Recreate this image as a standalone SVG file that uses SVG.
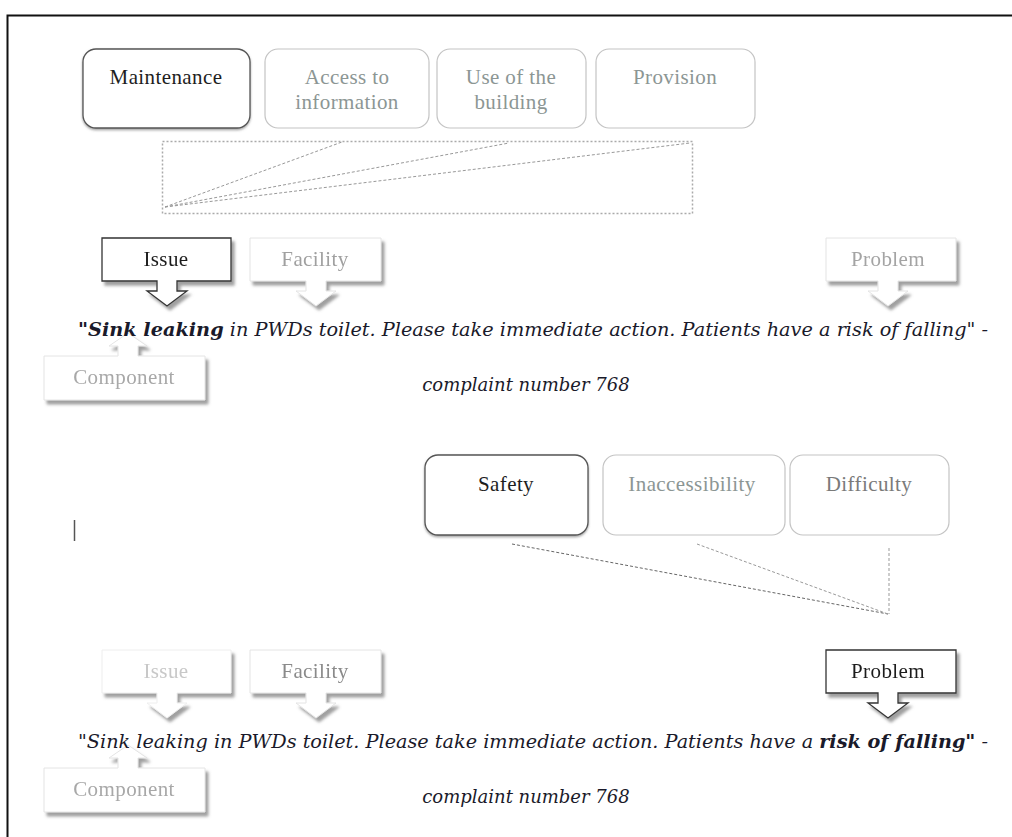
<svg xmlns="http://www.w3.org/2000/svg" width="1012" height="837" viewBox="0 0 1012 837">
<defs>
<filter id="sh" x="-10%" y="-10%" width="130%" height="140%">
<feDropShadow dx="3" dy="4" stdDeviation="1.5" flood-color="#777" flood-opacity="0.7"/>
</filter>
<filter id="sh2" x="-10%" y="-10%" width="130%" height="140%">
<feDropShadow dx="0" dy="1.5" stdDeviation="0.8" flood-color="#666" flood-opacity="0.6"/>
</filter>
</defs>
<style>
.bx{fill:#fff;rx:13px;ry:13px}
.dark{stroke:#555;stroke-width:1.3}
.light{stroke:#c4c4c4;stroke-width:1.2}
.t{font-family:'Liberation Serif','DejaVu Serif',serif;font-size:21px;letter-spacing:0.4px;text-anchor:middle}
.td{fill:#1e1e1e}
.tl{fill:#8c9694}
.tf{fill:#c8c8c8}
.co{fill:#fff}
.main{font-family:'DejaVu Serif',serif;font-size:18px;font-style:italic;fill:#1a1a2a}
.dash{fill:none;stroke:#999;stroke-width:1;stroke-dasharray:3 2}
</style>
<rect width="1012" height="837" fill="#fff"/>
<path d="M7.5,837 V15.5 H1012" fill="none" stroke="#111" stroke-width="2"/>
<line x1="74.5" y1="520" x2="74.5" y2="541" stroke="#555" stroke-width="1.5"/>

<g id="maintenance"><rect class="bx dark" x="83" y="49" width="167" height="79" filter="url(#sh2)"/><text class="t td" x="166" y="84">Maintenance</text></g>
<g id="access"><rect class="bx light" x="265" y="49" width="164" height="79"/><text class="t tl" x="347" y="84">Access to</text><text class="t tl" x="347" y="109">information</text></g>
<g id="use"><rect class="bx light" x="437" y="49" width="149" height="79"/><text class="t tl" x="511" y="84">Use of the</text><text class="t tl" x="511" y="109">building</text></g>
<g id="provision"><rect class="bx light" x="596" y="49" width="159" height="79"/><text class="t tl" x="675" y="84">Provision</text></g>

<g id="connectors1">
<rect x="162.5" y="141.5" width="530" height="72" fill="none" stroke="#aaa" stroke-width="1.5" stroke-dasharray="2 2"/>
<line class="dash" x1="165" y1="207" x2="342" y2="142"/>
<line class="dash" x1="165" y1="207" x2="509" y2="143"/>
<line class="dash" x1="165" y1="207" x2="690" y2="143"/>
</g>

<g id="issue1" filter="url(#sh)"><path class="co" d="M102,238 H231 V281 H177 V291 H187 L167,306 L147,291 H157 V281 H102 Z" stroke="#333" stroke-width="1.3"/><text class="t td" x="166" y="266">Issue</text></g>
<g id="facility1" filter="url(#sh)"><path class="co" d="M250,238 H381 V281 H326 V291 H336 L316,306 L296,291 H306 V281 H250 Z" stroke="#e4e4e4" stroke-width="1"/><text class="t" x="315" y="266" fill="#a0a0a0">Facility</text></g>
<g id="problem1" filter="url(#sh)"><path class="co" d="M826,238 H956 V281 H898 V291 H908 L888,306 L868,291 H878 V281 H826 Z" stroke="#e4e4e4" stroke-width="1"/><text class="t" x="888" y="266" fill="#a4a4a4">Problem</text></g>
<g id="component1" filter="url(#sh)"><path class="co" d="M44,356 H118 V346 H109 L128,333 L147,346 H138 V356 H205 V400 H44 Z" stroke="#e4e4e4" stroke-width="1"/><text class="t" x="124" y="384" fill="#a8a8a8">Component</text></g>

<text class="main" x="78" y="336" textLength="910" lengthAdjust="spacingAndGlyphs"><tspan font-weight="bold">"Sink leaking</tspan> in PWDs toilet. Please take immediate action. Patients have a risk of falling" -</text>
<text class="main" x="526" y="391" text-anchor="middle">complaint number 768</text>

<g id="safety"><rect class="bx dark" x="425" y="455" width="163" height="80" filter="url(#sh2)"/><text class="t td" x="506" y="491">Safety</text></g>
<g id="inaccessibility"><rect class="bx light" x="603" y="455" width="182" height="80"/><text class="t tl" x="692" y="491">Inaccessibility</text></g>
<g id="difficulty"><rect class="bx light" x="790" y="455" width="159" height="80"/><text class="t" x="869" y="491" fill="#7a7a7a">Difficulty</text></g>

<g id="connectors2">
<line x1="512" y1="544" x2="888" y2="614" fill="none" stroke="#666" stroke-width="1" stroke-dasharray="3 2"/>
<line class="dash" x1="697" y1="544" x2="888" y2="614" stroke="#aaa"/>
<line class="dash" x1="889" y1="548" x2="889" y2="614" stroke="#aaa"/>
</g>

<g id="issue2" filter="url(#sh)"><path class="co" d="M102,650 H231 V693 H177 V703 H187 L167,718 L147,703 H157 V693 H102 Z" stroke="#eee" stroke-width="1"/><text class="t tf" x="166" y="678">Issue</text></g>
<g id="facility2" filter="url(#sh)"><path class="co" d="M250,650 H381 V693 H326 V703 H336 L316,718 L296,703 H306 V693 H250 Z" stroke="#e4e4e4" stroke-width="1"/><text class="t" x="315" y="678" fill="#8a8a8a">Facility</text></g>
<g id="problem2" filter="url(#sh)"><path class="co" d="M826,650 H956 V693 H898 V703 H908 L888,718 L868,703 H878 V693 H826 Z" stroke="#333" stroke-width="1.3"/><text class="t td" x="888" y="678">Problem</text></g>
<g id="component2" filter="url(#sh)"><path class="co" d="M44,768 H118 V758 H109 L128,745 L147,758 H138 V768 H205 V812 H44 Z" stroke="#e4e4e4" stroke-width="1"/><text class="t" x="124" y="796" fill="#a8a8a8">Component</text></g>

<text class="main" x="78" y="748" textLength="910" lengthAdjust="spacingAndGlyphs">"Sink leaking in PWDs toilet. Please take immediate action. Patients have a <tspan font-weight="bold">risk of falling"</tspan> -</text>
<text class="main" x="526" y="803" text-anchor="middle">complaint number 768</text>
</svg>
